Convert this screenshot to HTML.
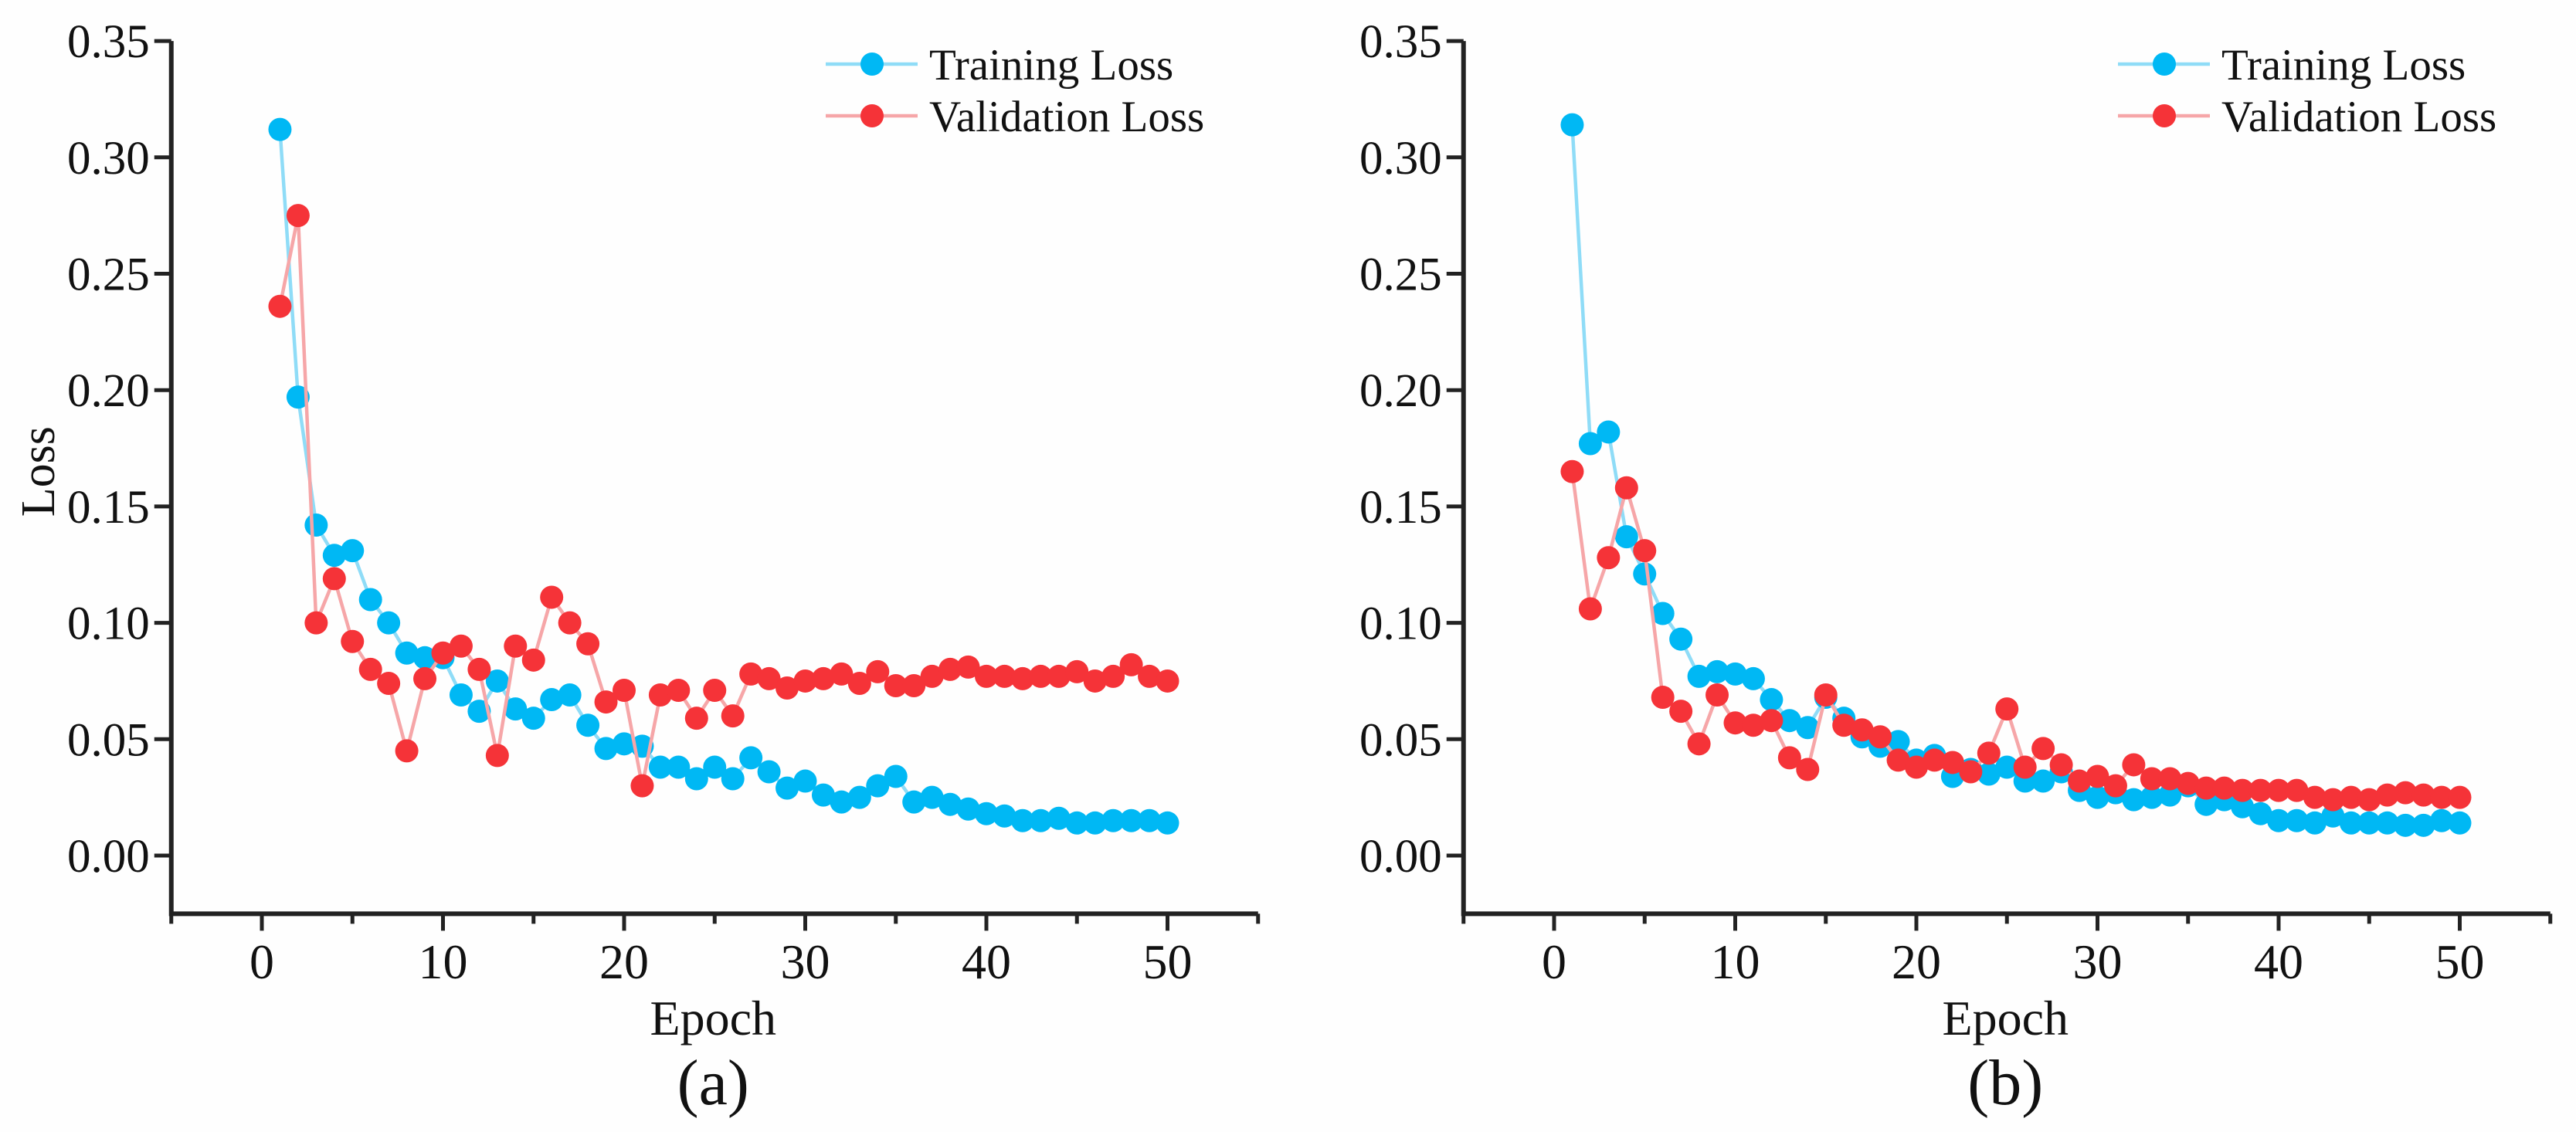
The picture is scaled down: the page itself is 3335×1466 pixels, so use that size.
<!DOCTYPE html>
<html><head><meta charset="utf-8"><style>
html,body{margin:0;padding:0;background:#fefefe;}
svg{display:block;font-family:"Liberation Serif",serif;}
</style></head><body>
<svg id="fig" width="3335" height="1466" viewBox="0 0 3335 1466" xmlns="http://www.w3.org/2000/svg"></svg>
<script>
const epochs = Array.from({length:50},(_,i)=>i+1);
const trainA = [0.312,0.197,0.142,0.129,0.131,0.110,0.100,0.087,0.085,0.085,0.069,0.062,0.075,0.063,0.059,0.067,0.069,0.056,0.046,0.048,0.047,0.038,0.038,0.033,0.038,0.033,0.042,0.036,0.029,0.032,0.026,0.023,0.025,0.030,0.034,0.023,0.025,0.022,0.020,0.018,0.017,0.015,0.015,0.016,0.014,0.014,0.015,0.015,0.015,0.014];
const valA = [0.236,0.275,0.100,0.119,0.092,0.080,0.074,0.045,0.076,0.087,0.090,0.080,0.043,0.090,0.084,0.111,0.100,0.091,0.066,0.071,0.030,0.069,0.071,0.059,0.071,0.060,0.078,0.076,0.072,0.075,0.076,0.078,0.074,0.079,0.073,0.073,0.077,0.080,0.081,0.077,0.077,0.076,0.077,0.077,0.079,0.075,0.077,0.082,0.077,0.075];
const trainB = [0.314,0.177,0.182,0.137,0.121,0.104,0.093,0.077,0.079,0.078,0.076,0.067,0.058,0.055,0.068,0.059,0.051,0.047,0.049,0.041,0.043,0.034,0.037,0.035,0.038,0.032,0.032,0.036,0.028,0.025,0.027,0.024,0.025,0.026,0.030,0.022,0.024,0.021,0.018,0.015,0.015,0.014,0.017,0.014,0.014,0.014,0.013,0.013,0.015,0.014];
const valB = [0.165,0.106,0.128,0.158,0.131,0.068,0.062,0.048,0.069,0.057,0.056,0.058,0.042,0.037,0.069,0.056,0.054,0.051,0.041,0.038,0.041,0.040,0.036,0.044,0.063,0.038,0.046,0.039,0.032,0.034,0.030,0.039,0.033,0.033,0.031,0.029,0.029,0.028,0.028,0.028,0.028,0.025,0.024,0.025,0.024,0.026,0.027,0.026,0.025,0.025];
const xTicks = [0,10,20,30,40,50];
const yTicks = [0.00,0.05,0.10,0.15,0.20,0.25,0.30,0.35];

const NS="http://www.w3.org/2000/svg";
const svg=document.getElementById('fig');
function mk(tag,attrs,parent){const e=document.createElementNS(NS,tag);for(const k in attrs)e.setAttribute(k,attrs[k]);(parent||svg).appendChild(e);return e;}

function panel(off, train, val, tag, showYLabel){
  const g=mk('g',{});
  
  
  const X=v=>off+339+(v)*23.45;
  const Y=v=>1108-v*3014;
  const xl=X(-5), xr=X(55), yt=Y(0.35), yb=Y(-0.025);
  const ax=mk('path',{d:`M${xl} ${yt} L${xl} ${yb} L${xr} ${yb}`,fill:'none',stroke:'#222',"stroke-width":6},g);
  
  
  for(let v=-5;v<=55;v+=5){
    const major=v%10===0;
    mk('line',{x1:X(v),x2:X(v),y1:yb,y2:yb+(major?22:13),stroke:'#222',"stroke-width":5},g);
  }
  xTicks.forEach(v=>{
    const t=mk('text',{x:X(v),y:1267,"font-size":64,"text-anchor":"middle",fill:'#111'},g);
    t.textContent=v;
    
    
  });
  yTicks.forEach(v=>{
    mk('line',{x1:xl-22,x2:xl,y1:Y(v),y2:Y(v),stroke:'#222',"stroke-width":5},g);
    const t=mk('text',{x:xl-28,y:Y(v)+21,"font-size":61,"text-anchor":"end",fill:'#111'},g);
    t.textContent=v.toFixed(2);
    
    
  });
  const xt=mk('text',{x:X(25)-2,y:1340,"font-size":64,"text-anchor":"middle",fill:'#111'},g);
  xt.textContent='Epoch';
  
  
  const cap=mk('text',{x:X(25)-2,y:1430,"font-size":84,"text-anchor":"middle",fill:'#111'},g);
  cap.textContent='('+tag+')';
  
  
  if(showYLabel){
    const yl=mk('text',{x:0,y:0,"font-size":62,"text-anchor":"middle",fill:'#111',transform:`translate(70 ${Y(0.165)}) rotate(-90)`},g);
    yl.textContent='Loss';
    
    
  }
  const series=[[train,'#8fdcf7','#00b8f4','training-loss'],[val,'#f6a6a8','#f53338','validation-loss']];
  series.forEach(([data,lc,mc,name])=>{
    const pl=mk('polyline',{points:data.map((v,i)=>X(epochs[i])+','+Y(v)).join(' '),fill:'none',stroke:lc,"stroke-width":4.5},g);
    
    
    data.forEach((v,i)=>{
      const c=mk('circle',{cx:X(epochs[i]),cy:Y(v),r:15,fill:mc},g);
      
      
    });
  });
  const lg=mk('g',{},g);
  
  
  [['Training Loss','#8fdcf7','#00b8f4',83],['Validation Loss','#f6a6a8','#f53338',150]].forEach(([lab,lc,mc,yy])=>{
    const e=mk('g',{},lg);
    
    
    mk('line',{x1:off+1069,x2:off+1188,y1:yy,y2:yy,stroke:lc,"stroke-width":4.5},e);
    mk('circle',{cx:off+1129,cy:yy,r:15,fill:mc},e);
    const t=mk('text',{x:off+1203,y:yy+20,"font-size":57,fill:'#111'},e);
    t.textContent=lab;
  });
}
panel(0,trainA,valA,'a',true);
panel(1673,trainB,valB,'b',false);
</script>
</body></html>
